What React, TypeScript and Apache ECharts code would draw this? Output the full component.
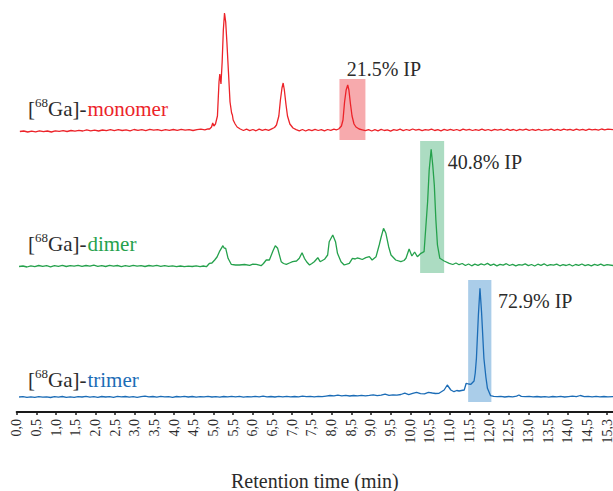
import React, { useEffect, useRef } from 'react';
import * as echarts from 'echarts';

const tickValues = [0, 0.5, 1, 1.5, 2, 2.5, 3, 3.5, 4, 4.5, 5, 5.5, 6, 6.5, 7, 7.5, 8, 8.5, 9, 9.5, 10, 10.5, 11, 11.5, 12, 12.5, 13, 13.5, 14, 14.5, 15];
const tickLabels = ['0,0', '0,5', '1,0', '1,5', '2,0', '2,5', '3,0', '3,5', '4,0', '4,5', '5,0', '5,5', '6,0', '6,5', '7,0', '7,5', '8,0', '8,5', '9,0', '9,5', '10,0', '10,5', '11,0', '11,5', '12,0', '12,5', '13,0', '13,5', '14,0', '14,5', '15,3'];

const monomerTrace: [number, number][] = [
  [0.08, -1.5], [0.18, -1], [0.28, -2], [0.38, -1.2], [0.48, -1.8], [0.58, -0.8], [0.68, -1.6], [0.78, -1], [0.88, -2], [0.98, -0.9],
  [1.08, -1.4], [1.18, -0.6], [1.28, -1.5], [1.38, -0.5], [1.48, -1.2], [1.58, -0.3], [1.68, -1], [1.78, 0.2], [1.88, -0.8], [1.98, -0.2],
  [2.08, -1], [2.18, 0], [2.28, -0.7], [2.38, 0.3], [2.48, -0.6], [2.58, 0.4], [2.68, -0.5], [2.78, 0.2], [2.88, -0.8], [2.98, 0.5],
  [3.08, -0.4], [3.18, 0.3], [3.28, -0.6], [3.38, 0.6], [3.48, -0.2], [3.58, 0.4], [3.68, -0.7], [3.78, 0.3], [3.88, -0.4], [3.98, 0.5],
  [4.08, -0.3], [4.18, 0.6], [4.28, -0.2], [4.38, 0.4], [4.48, -0.5], [4.58, 0.3], [4.68, 0.8], [4.78, 0.2], [4.86, 1.2],
  [4.9, 1], [4.95, 3], [4.98, 7], [5.01, 4], [5.05, 6], [5.1, 14], [5.14, 48], [5.16, 56], [5.19, 46], [5.22, 68], [5.25, 100],
  [5.28, 117], [5.31, 108], [5.34, 88], [5.38, 58], [5.42, 28], [5.46, 17], [5.48, 15], [5.5, 10], [5.55, 6], [5.6, 3], [5.68, 1],
  [5.76, -0.5], [5.84, 0.8], [5.92, -0.6], [6.0, 0.5], [6.08, -0.8], [6.16, 0.9], [6.24, -0.3], [6.32, 0.6], [6.4, -0.4], [6.48, 1.2], [6.55, 2.5],
  [6.6, 5], [6.66, 14], [6.7, 30], [6.74, 42], [6.77, 47], [6.8, 40], [6.84, 26], [6.88, 14], [6.94, 6], [7.02, 2], [7.1, 0.4],
  [7.18, -0.8], [7.26, 0.5], [7.34, -1], [7.42, 0.3], [7.5, -0.7], [7.58, 0.6], [7.66, -0.5], [7.74, 0.4], [7.82, -0.9], [7.9, 0.5], [7.98, -0.4], [8.06, 0.8], [8.12, 0.2],
  [8.18, 1], [8.25, 4], [8.29, 10], [8.33, 28], [8.37, 40], [8.41, 45], [8.44, 40], [8.48, 26], [8.52, 14], [8.57, 6], [8.62, 3], [8.7, 1],
  [8.78, 0.2], [8.86, -0.6], [8.94, 0.4], [9.02, -1], [9.1, 0.3], [9.18, -0.8], [9.26, 0.6], [9.34, -0.5], [9.42, 0.2], [9.5, -1.2],
  [9.58, 0.4], [9.66, -0.3], [9.74, 0.8], [9.82, -0.6], [9.9, 0.5], [9.98, -0.4], [10.06, 1], [10.14, -0.2], [10.22, 0.6], [10.3, -0.7],
  [10.38, 0.4], [10.46, -0.2], [10.54, 0.9], [10.62, -0.5], [10.7, 0.3], [10.78, -0.8], [10.86, 0.6], [10.94, -0.3], [11.02, 0.7], [11.1, -0.4],
  [11.18, 0.5], [11.26, -0.6], [11.34, 0.8], [11.42, -0.2], [11.5, 0.6], [11.58, -0.5], [11.66, 0.4], [11.74, -0.3], [11.82, 0.9], [11.9, -0.4],
  [11.98, 0.5], [12.06, -0.6], [12.14, 0.7], [12.22, -0.2], [12.3, 0.6], [12.38, -0.5], [12.46, 0.8], [12.54, -0.3], [12.62, 0.5], [12.7, -0.6],
  [12.78, 0.6], [12.86, -0.2], [12.94, 0.9], [13.02, -0.4], [13.1, 0.5], [13.18, -0.3], [13.26, 0.7], [13.34, -0.5], [13.42, 0.4], [13.5, -0.2],
  [13.58, 0.8], [13.66, -0.4], [13.74, 0.6], [13.82, -0.3], [13.9, 0.9], [13.98, 0], [14.06, 0.6], [14.14, -0.4], [14.22, 0.8], [14.3, -0.1],
  [14.38, 0.7], [14.46, -0.3], [14.54, 0.9], [14.62, 0.1], [14.7, 0.7], [14.78, -0.2], [14.86, 1], [14.94, 0.2], [15.02, 0.8], [15.15, 0.3],
];

const dimerTrace: [number, number][] = [
  [0.06, -1.5], [0.16, -1], [0.26, -2], [0.36, -0.8], [0.46, -1.6], [0.56, -0.5], [0.66, -1.4], [0.76, -0.7], [0.86, -1.8], [0.96, -0.6],
  [1.06, -1.3], [1.16, -0.4], [1.26, -1.5], [1.36, -0.6], [1.46, -1.2], [1.56, -0.3], [1.66, -1.4], [1.76, -0.5], [1.86, -1.1], [1.96, -0.2],
  [2.06, -1.3], [2.16, -0.6], [2.26, -1.5], [2.36, -0.4], [2.46, -1.2], [2.56, -0.5], [2.66, -1.6], [2.76, -0.7], [2.86, -1.3], [2.96, -0.3],
  [3.06, -1.1], [3.16, -0.6], [3.26, -1.5], [3.36, -0.5], [3.46, -1.2], [3.56, -0.4], [3.66, -1.4], [3.76, -0.6], [3.86, -1.3], [3.96, -0.8],
  [4.06, -1.6], [4.16, -1], [4.26, -1.7], [4.36, -1.2], [4.46, -1.5], [4.56, -0.9], [4.66, -1.6], [4.74, -1], [4.82, -1.7],
  [4.9, 1.7], [4.96, 2], [5.03, 5], [5.09, 8], [5.15, 13.3], [5.24, 19.3], [5.27, 17], [5.31, 16.7], [5.37, 6.7], [5.45, 0.7],
  [5.56, 0], [5.66, 0], [5.79, 0.5], [5.92, -0.3], [6.0, 0.8], [6.09, 0.7], [6.21, -0.7], [6.27, 1.5], [6.34, 5], [6.42, 5], [6.51, 14],
  [6.57, 19.3], [6.63, 16.7], [6.72, 3.3], [6.78, 1.5], [6.85, 0.7], [6.93, 2], [7.01, 3.3], [7.11, 4], [7.18, 6.7], [7.25, 12.3],
  [7.31, 6.7], [7.37, 3], [7.44, 0], [7.5, 1.5], [7.56, 3.3], [7.65, 7.3], [7.71, 3.3], [7.82, 5.7], [7.9, 10], [7.94, 23.3], [8.03, 30],
  [8.1, 23.3], [8.15, 11.7], [8.24, 3.3], [8.32, 0], [8.45, 1.7], [8.53, 6.7], [8.6, 6], [8.65, 7], [8.7, 6.7], [8.78, 5.5], [8.87, 7.3],
  [8.96, 8.3], [9.03, 5], [9.13, 8.3], [9.21, 20], [9.26, 28], [9.32, 36.7], [9.38, 31.7], [9.45, 18.3], [9.51, 10], [9.63, 5],
  [9.76, 3.3], [9.84, 4.5], [9.89, 6.7], [9.97, 16], [10.04, 9], [10.11, 13], [10.18, 8.3], [10.27, 11.7], [10.35, 13.3], [10.44, 63.3],
  [10.48, 95], [10.53, 115.7], [10.57, 100], [10.61, 80], [10.65, 45], [10.69, 20], [10.75, 6.7], [10.86, 4], [10.99, 1.7],
  [11.08, 0.5], [11.16, 2], [11.24, 0.3], [11.32, 1.5], [11.4, -0.5], [11.48, 1], [11.56, -0.8], [11.64, 0.8], [11.72, -0.3], [11.8, 1.2],
  [11.88, 0], [11.96, 1.6], [12.04, -0.4], [12.12, 0.9], [12.2, -0.9], [12.28, 0.6], [12.36, -0.2], [12.44, 1.3], [12.52, -0.5], [12.6, 0.7],
  [12.68, -0.8], [12.76, 0.4], [12.84, -0.2], [12.92, 1.1], [13.0, -0.6], [13.08, 0.5], [13.16, -1], [13.24, 0.8], [13.32, -0.3], [13.4, 1.2],
  [13.48, -0.7], [13.56, 0.4], [13.64, -0.2], [13.72, 0.9], [13.8, -0.8], [13.88, 0.3], [13.96, -0.5], [14.04, 0.7], [14.12, -1], [14.2, 0.5],
  [14.28, -0.3], [14.36, 1], [14.44, -0.6], [14.52, 0.4], [14.6, -0.9], [14.68, 0.6], [14.76, -0.4], [14.84, 0.8], [14.92, -0.7], [15.0, 0.3], [15.15, -0.5],
];

const trimerTrace: [number, number][] = [
  [0.06, 0], [0.16, 0.3], [0.26, -0.4], [0.36, 0.2], [0.46, -0.3], [0.56, 0.4], [0.66, -0.2], [0.76, 0.1], [0.86, -0.5], [0.96, 0.3],
  [1.06, -0.1], [1.16, 0.5], [1.26, -0.3], [1.36, 0.2], [1.46, -0.4], [1.56, 0.4], [1.66, 0], [1.76, 0.6], [1.86, -0.2], [1.96, 0.3],
  [2.06, -0.4], [2.16, 0.5], [2.26, 0], [2.36, 0.4], [2.46, -0.3], [2.56, 0.6], [2.66, 0.1], [2.76, 0.5], [2.86, -0.2], [2.96, 0.4],
  [3.06, -0.3], [3.16, 0.3], [3.26, 0.8], [3.36, 0.1], [3.46, 0.5], [3.56, -0.2], [3.66, 0.6], [3.76, 0.1], [3.86, 0.4], [3.96, -0.3],
  [4.06, 0.5], [4.16, 0.2], [4.26, 0.7], [4.36, 0], [4.46, 0.5], [4.56, -0.2], [4.66, 0.4], [4.76, 0.1], [4.86, 0.6], [4.96, 0],
  [5.06, 0.4], [5.16, -0.2], [5.26, 0.5], [5.36, 0.1], [5.46, 0.7], [5.56, 0.2], [5.66, 0.6], [5.76, -0.1], [5.86, 0.4], [5.96, 0.1],
  [6.06, 0.6], [6.16, 0.2], [6.26, 0.8], [6.36, 0.1], [6.46, 0.5], [6.56, 0], [6.66, 0.6], [6.76, 0.2], [6.86, 0.7], [6.96, 0.1],
  [7.06, 0.5], [7.16, 0.2], [7.26, 0.8], [7.36, 0.3], [7.46, 0.6], [7.56, 0.1], [7.66, 0.7], [7.76, 0.3], [7.86, 0.9], [7.96, 1.5],
  [8.06, 1.2], [8.16, 1.8], [8.26, 1.2], [8.36, 1.6], [8.46, 1], [8.56, 1.5], [8.66, 1.1], [8.76, 1.7], [8.86, 1.2], [8.96, 1.6],
  [9.06, 2.2], [9.16, 1.4], [9.26, 1.8], [9.36, 2.8], [9.46, 1.6], [9.56, 2.2], [9.66, 1.8], [9.76, 2.5], [9.86, 3.8], [9.96, 2.4],
  [10.06, 3.6], [10.16, 4.7], [10.26, 3.4], [10.36, 3.2], [10.46, 4.7], [10.56, 4], [10.64, 3.5], [10.73, 3.7],
  [10.86, 7], [10.94, 12], [11.03, 7], [11.11, 5.3], [11.18, 6.5], [11.24, 6], [11.3, 6.5], [11.37, 7], [11.42, 13.7], [11.48, 13],
  [11.54, 12.7], [11.62, 16], [11.65, 24], [11.68, 38.7], [11.73, 82], [11.77, 108.7], [11.81, 85.3], [11.87, 38.7], [11.92, 20],
  [11.96, 8.7], [12.04, 1.3], [12.12, 0.6], [12.21, 0.3],
  [12.3, 0.6], [12.4, 0], [12.5, 0.5], [12.6, 0.2], [12.7, 0.9], [12.76, 2], [12.82, 0.6], [12.92, 0.3], [13.02, 0.7], [13.12, 0.1],
  [13.22, 0.5], [13.32, 0], [13.42, 0.4], [13.52, -0.1], [13.62, 0.5], [13.72, 0.2], [13.82, 0.6], [13.92, 0], [14.02, 0.4], [14.12, 0.8],
  [14.22, 0.3], [14.32, 1.5], [14.42, 0.4], [14.52, 0.7], [14.62, 0.2], [14.72, 0.6], [14.82, 0.1], [14.92, 0.5], [15.02, 0.2], [15.15, 0.4],
];

const traceNames = ['monomer', 'dimer', 'trimer'];
const ipLabels = ['21.5% IP', '40.8% IP', '72.9% IP'];
const ipWindowStart = [8.2, 10.25, 11.47];
const ipWindowEnd = [8.86, 10.86, 12.06];
const ipWindowLow = [-10, -8, -5];
const ipWindowHigh = [51, 124, 117];

const FONT = 'Liberation Serif';
const TEXT = '#2b2b2b';
const lineColors = ['#ec2329', '#25a14c', '#1b6cb6'];
const areaColors = ['#f7aaad', '#acdcc2', '#aacde9'];

export default function App() {
  const ref = useRef<HTMLDivElement>(null);
  useEffect(() => {
    if (!ref.current) return;
    const chart = echarts.init(ref.current, undefined, { renderer: 'svg' });
    const traces = [monomerTrace, dimerTrace, trimerTrace];
    const gridTops = [0, 140, 280];
    const gridHeights = [140, 140, 132];
    const yMin = [-10, -15, -15];
    const yMax = [130, 125, 117];
    const labelY = [108.5, 243.5, 380];
    const ipPos = [[346.7, 68.5], [447.7, 161.8], [498, 300.8]];

    const option: any = {
      animation: false,
      textStyle: { fontFamily: FONT },
      grid: gridTops.map((t, i) => ({ left: 16.7, right: 0, top: t, height: gridHeights[i], containLabel: false, outerBoundsMode: 'none' })),
      xAxis: [0, 1, 2].map((i) => ({
        type: 'value',
        gridIndex: i,
        min: 0,
        max: 15.15,
        show: i === 2,
        splitLine: { show: false },
        axisLine: { show: true, onZero: false, lineStyle: { color: '#1a1a1a', width: 2 } },
        axisTick: { show: true, length: 3, customValues: tickValues, lineStyle: { color: '#1a1a1a', width: 1.5 } },
        axisLabel: {
          show: true,
          customValues: tickValues,
          rotate: 90,
          margin: 7,
          fontFamily: FONT,
          fontSize: 14,
          lineHeight: 10,
          color: TEXT,
          formatter: (v: number) => {
            const idx = tickValues.indexOf(v);
            return idx >= 0 ? tickLabels[idx] : '';
          },
        },
        name: i === 2 ? 'Retention time (min)' : '',
        nameLocation: 'middle',
        nameGap: 60,
        nameTextStyle: { fontFamily: FONT, fontSize: 20, lineHeight: 18, color: TEXT },
      })),
      yAxis: [0, 1, 2].map((i) => ({
        type: 'value',
        gridIndex: i,
        min: yMin[i],
        max: yMax[i],
        show: false,
        splitLine: { show: false },
      })),
      series: traces.map((tr, i) => ({
        type: 'line',
        name: traceNames[i],
        xAxisIndex: i,
        yAxisIndex: i,
        data: tr,
        showSymbol: false,
        symbol: 'none',
        z: 3,
        lineStyle: { color: lineColors[i], width: 1.3 },
        markArea: {
          silent: true,
          z: 1,
          itemStyle: { color: areaColors[i], opacity: 1 },
          data: [[
            { xAxis: ipWindowStart[i], yAxis: ipWindowLow[i] },
            { xAxis: ipWindowEnd[i], yAxis: ipWindowHigh[i] },
          ]],
        },
      })),
      graphic: [
        ...traceNames.map((n, i) => ({
          type: 'text',
          left: 28,
          top: labelY[i] - 13,
          style: {
            text: `{b|[}{s|68}{b|Ga]-}{m|${n}}`,
            fontFamily: FONT,
            fontSize: 21,
            rich: {
              b: { fontFamily: FONT, fontSize: 21, lineHeight: 26, fill: TEXT },
              s: { fontFamily: FONT, fontSize: 13, lineHeight: 13, verticalAlign: 'top', fill: TEXT },
              m: { fontFamily: FONT, fontSize: 21, lineHeight: 26, fill: lineColors[i], padding: [0, 0, 0, 1] },
            },
          },
        })),
        ...ipLabels.map((t, i) => ({
          type: 'text',
          x: ipPos[i][0],
          y: ipPos[i][1],
          style: { text: t, fontFamily: FONT, fontSize: 20, fill: TEXT, verticalAlign: 'middle' },
        })),
      ],
    };
    chart.setOption(option);
    return () => chart.dispose();
  }, []);
  return <div ref={ref} style={{ position: 'absolute', left: 0, top: 0, width: 613, height: 491 }} />;
}
